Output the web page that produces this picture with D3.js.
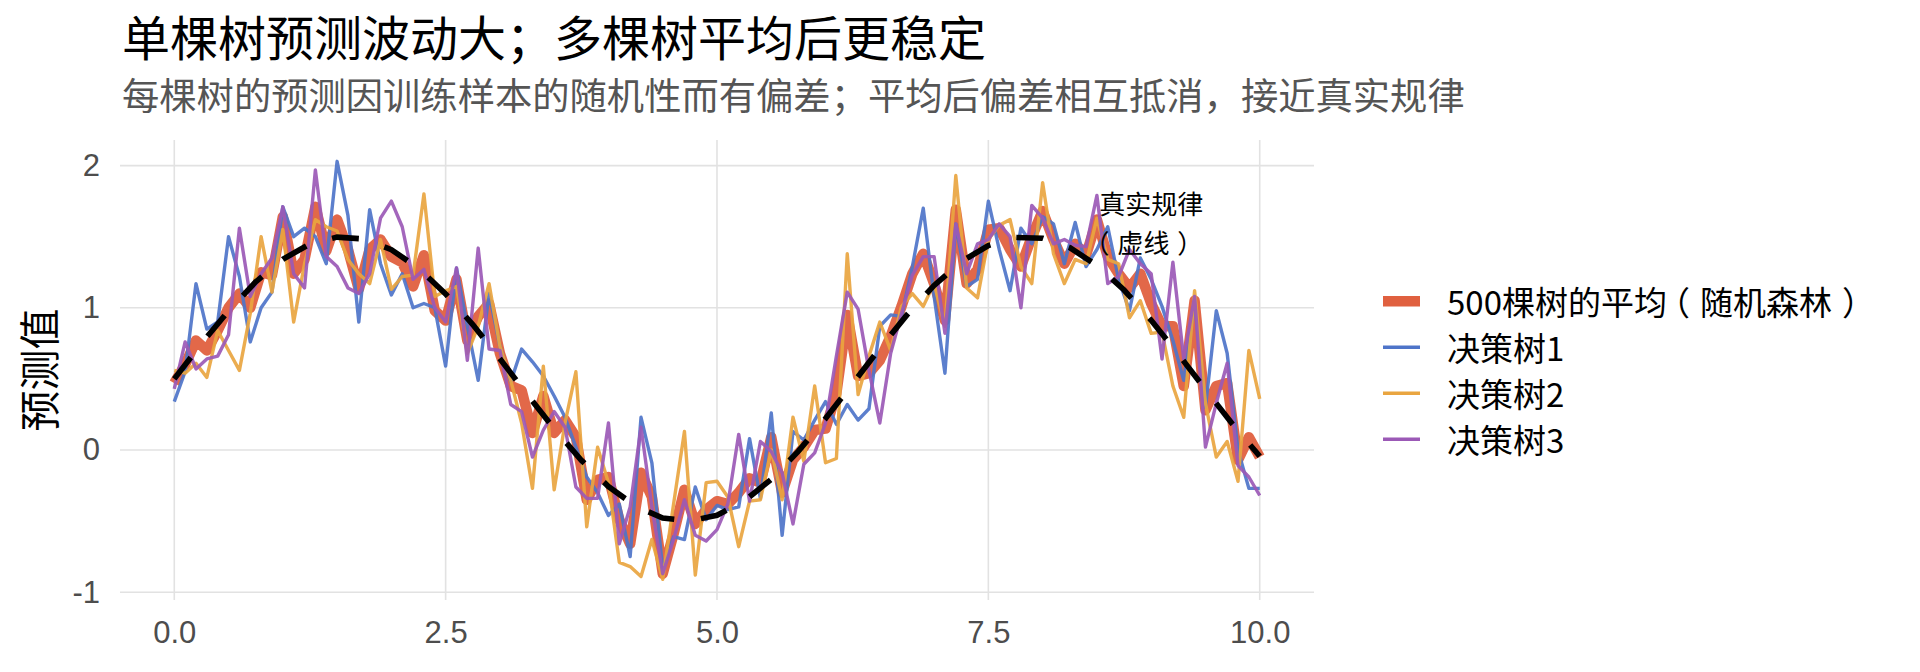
<!DOCTYPE html>
<html>
<head>
<meta charset="utf-8">
<script src="https://cdn.jsdelivr.net/npm/d3@7/dist/d3.min.js"></script>
<style>
  html, body { margin: 0; padding: 0; background: #fff; }
  svg { display: block; }
</style>
</head>
<body>
<svg id="chart" width="1920" height="672"></svg>
<script>
// ---------------- DATA ----------------
const titleText = "单棵树预测波动大；多棵树平均后更稳定";
const subtitleText = "每棵树的预测因训练样本的随机性而有偏差；平均后偏差相互抵消，接近真实规律";
const yAxisTitle = "预测值";
const xTickValues = [0, 2.5, 5, 7.5, 10];
const xTickLabels = ["0.0", "2.5", "5.0", "7.5", "10.0"];
const yTickValues = [-1, 0, 1, 2];
const yTickLabels = ["-1", "0", "1", "2"];
const seriesNames = ["500棵树的平均（随机森林）", "决策树1", "决策树2", "决策树3"];
const annotationLines = ["真实规律", "（虚线）"];

const xValues = [0,0.1,0.2,0.3,0.4,0.5,0.6,0.7,0.8,0.9,1,1.1,1.2,1.3,1.4,1.5,1.6,1.7,1.8,1.9,2,2.1,2.2,2.3,2.4,2.5,2.6,2.7,2.8,2.9,3,3.1,3.2,3.3,3.4,3.5,3.6,3.7,3.8,3.9,4,4.1,4.2,4.3,4.4,4.5,4.6,4.7,4.8,4.9,5,5.1,5.2,5.3,5.4,5.5,5.6,5.7,5.8,5.9,6,6.1,6.2,6.3,6.4,6.5,6.6,6.7,6.8,6.9,7,7.1,7.2,7.3,7.4,7.5,7.6,7.7,7.8,7.9,8,8.1,8.2,8.3,8.4,8.5,8.6,8.7,8.8,8.9,9,9.1,9.2,9.3,9.4,9.5,9.6,9.7,9.8,9.9,10];

const forestAvg = [0.47,0.60,0.77,0.70,0.84,1.00,1.10,1.00,1.25,1.23,1.64,1.24,1.34,1.71,1.40,1.62,1.41,1.13,1.41,1.48,1.36,1.32,1.15,1.37,0.98,0.91,1.20,0.77,0.94,1.03,0.68,0.45,0.42,0.12,0.38,0.12,0.21,0.09,-0.35,-0.21,-0.19,-0.49,-0.66,-0.16,-0.33,-0.87,-0.59,-0.28,-0.52,-0.42,-0.36,-0.38,-0.30,-0.20,-0.23,0.09,-0.30,-0.07,0.02,0.14,0.15,0.40,0.95,0.52,0.54,0.63,0.80,1.01,1.24,1.38,1.17,0.91,1.69,1.17,1.27,1.55,1.56,1.41,1.29,1.50,1.68,1.48,1.31,1.45,1.37,1.62,1.36,1.24,1.14,1.24,1.03,0.87,0.87,0.45,1.05,0.28,0.45,0.47,-0.07,0.09,-0.05];

const tree1 = [0.34,0.55,1.17,0.85,0.90,1.50,1.22,0.76,1.00,1.11,1.71,1.50,1.56,1.50,1.31,2.03,1.65,0.90,1.69,1.31,1.09,1.24,1.00,1.03,1.00,0.59,1.28,0.87,0.49,1.10,0.73,0.48,0.71,0.62,0.52,0.38,0.23,0.02,-0.19,-0.30,-0.46,-0.38,-0.75,0.23,-0.09,-0.84,-0.61,-0.63,-0.26,-0.49,-0.39,-0.42,-0.40,0.08,-0.34,0.26,-0.60,0.13,0.07,0.21,0.34,0.18,0.32,0.21,0.29,0.87,0.95,0.94,1.29,1.70,1.08,0.54,1.59,1.15,1.20,1.75,1.41,1.12,1.56,1.45,1.64,1.59,1.31,1.60,1.29,1.41,1.57,1.20,0.98,1.35,1.20,1.01,0.77,0.49,1.05,0.30,0.98,0.68,0.00,-0.27,-0.27];

const tree2 = [0.56,0.54,0.61,0.51,0.84,0.70,0.56,0.96,1.50,1.11,1.55,0.90,1.31,1.62,1.57,1.54,1.34,1.24,1.17,1.48,1.13,1.22,1.23,1.80,1.08,1.12,1.15,0.68,0.87,1.17,0.73,0.49,0.19,-0.27,0.59,-0.28,0.19,0.55,-0.54,0.02,-0.23,-0.79,-0.82,-0.89,-0.63,-0.91,-0.38,0.13,-0.88,-0.23,-0.22,-0.33,-0.68,-0.36,-0.35,0.00,-0.35,0.23,-0.08,0.45,-0.09,-0.06,1.38,0.39,0.66,0.90,0.70,1.01,1.10,1.01,1.17,0.87,1.93,1.14,1.07,1.48,1.58,1.62,1.29,1.17,1.88,1.38,1.17,1.34,1.31,1.63,1.34,1.31,0.93,1.05,0.82,0.83,0.45,0.23,1.12,0.33,-0.05,0.06,-0.22,0.70,0.36];

const tree3 = [0.43,0.76,0.57,0.64,0.66,0.81,1.56,1.08,1.24,1.35,1.71,1.24,1.14,1.97,1.36,1.29,1.14,1.10,1.24,1.63,1.75,1.57,1.20,1.27,1.00,0.90,1.28,0.63,1.42,0.71,0.70,0.32,0.27,-0.05,0.14,0.27,0.16,-0.26,-0.34,-0.34,0.19,-0.66,-0.40,0.16,-0.40,-0.87,-0.63,-0.35,-0.60,-0.64,-0.56,-0.38,0.11,-0.36,0.06,-0.01,-0.16,-0.52,-0.10,-0.02,0.19,0.66,1.11,0.99,0.56,0.19,0.68,0.96,1.23,1.36,1.36,0.82,1.59,1.24,1.45,1.48,1.59,1.50,1.00,1.72,1.63,1.45,1.48,1.44,1.43,1.79,1.17,1.22,1.41,1.31,1.24,0.64,1.32,0.64,1.08,0.02,0.33,0.61,-0.11,-0.19,-0.32];

const trueX = [0,0.25,0.5,0.75,1,1.25,1.5,1.75,2,2.25,2.5,2.75,3,3.25,3.5,3.75,4,4.25,4.5,4.75,5,5.25,5.5,5.75,6,6.25,6.5,6.75,7,7.25,7.5,7.75,8,8.25,8.5,8.75,9,9.25,9.5,9.75,10];
const trueY = [0.5,0.747,0.979,1.182,1.341,1.449,1.497,1.484,1.409,1.278,1.098,0.882,0.641,0.392,0.149,-0.072,-0.257,-0.395,-0.478,-0.499,-0.459,-0.359,-0.206,-0.008,0.221,0.467,0.715,0.950,1.157,1.324,1.438,1.495,1.489,1.423,1.298,1.125,0.912,0.674,0.425,0.181,-0.044];

const annotationAt = [9.0, 1.6];

// ---------------- STYLE ----------------
const colors = ["#E0603F", "#4E74C9", "#E9A540", "#9B59B6"];
const widths = [10.5, 3.4, 3.4, 3.4];
const cjk = "'Noto Sans CJK SC', 'Noto Sans', sans-serif";
const latin = "'Liberation Sans', Arial, sans-serif";

const svg = d3.select("#chart");
const panel = { left: 120, right: 1314, top: 140, bottom: 600 };

const x = d3.scaleLinear().domain([-0.5, 10.5]).range([panel.left, panel.right]);
const y = d3.scaleLinear().domain([-1.055, 2.18]).range([panel.bottom, panel.top]);

// per-glyph dx list that centres full-width parentheses inside their em box
function parenDx(str, fs) {
  const chars = Array.from(str);
  const dx = chars.map(() => 0);
  chars.forEach((c, i) => {
    if (c === "（") {
      dx[i] -= 0.3 * fs;
      if (i + 1 < chars.length) dx[i + 1] += 0.3 * fs;
    } else if (c === "）") {
      dx[i] += 0.3 * fs;
      if (i + 1 < chars.length) dx[i + 1] -= 0.3 * fs;
    }
  });
  return dx.join(" ");
}

// gridlines
const grid = svg.append("g");
grid.selectAll("line.h").data(yTickValues).join("line")
  .attr("x1", panel.left).attr("x2", panel.right)
  .attr("y1", d => y(d)).attr("y2", d => y(d))
  .attr("stroke", "#e2e2e2").attr("stroke-width", 1.6);
grid.selectAll("line.v").data(xTickValues).join("line")
  .attr("y1", panel.top).attr("y2", panel.bottom)
  .attr("x1", d => x(d)).attr("x2", d => x(d))
  .attr("stroke", "#e2e2e2").attr("stroke-width", 1.6);

// axes
const xAxis = svg.append("g").attr("transform", `translate(0,${panel.bottom})`)
  .call(d3.axisBottom(x).tickValues(xTickValues)
    .tickFormat((d, i) => xTickLabels[i]).tickSize(0).tickPadding(21));
const yAxis = svg.append("g").attr("transform", `translate(${panel.left},0)`)
  .call(d3.axisLeft(y).tickValues(yTickValues)
    .tickFormat((d, i) => yTickLabels[i]).tickSize(0).tickPadding(20));
[xAxis, yAxis].forEach(a => {
  a.select(".domain").remove();
  a.selectAll("text").attr("font-family", latin).attr("font-size", 31).attr("fill", "#4d4d4d");
});

// lines
const seriesData = [forestAvg, tree1, tree2, tree3];
const line = d3.line().x((d, i) => x(xValues[i])).y(d => y(d));
const lines = svg.append("g");
seriesData.forEach((s, i) => {
  lines.append("path").datum(s)
    .attr("d", line)
    .attr("fill", "none")
    .attr("stroke", colors[i])
    .attr("stroke-width", widths[i])
    .attr("stroke-linejoin", "round")
    .attr("stroke-opacity", i === 0 ? 0.95 : 0.92);
});

// true curve dashed
const trueLine = d3.line().x((d, i) => x(trueX[i])).y(d => y(d));
svg.append("path").datum(trueY)
  .attr("d", trueLine)
  .attr("fill", "none")
  .attr("stroke", "#000")
  .attr("stroke-width", 5.6)
  .attr("stroke-dasharray", "27 27");

// annotation
annotationLines.forEach((t, i) => {
  svg.append("text")
    .attr("x", x(annotationAt[0]))
    .attr("y", y(annotationAt[1]) + (i === 0 ? -19.5 : 19.5))
    .attr("dx", parenDx(t, 26))
    .attr("dominant-baseline", "central")
    .attr("text-anchor", "middle")
    .attr("font-family", cjk).attr("font-size", 26).attr("fill", "#000")
    .text(t);
});

// titles
svg.append("text").attr("x", 122).attr("y", 55.5)
  .attr("font-family", cjk).attr("font-size", 48).attr("fill", "#000")
  .text(titleText);
svg.append("text").attr("x", 122).attr("y", 110)
  .attr("font-family", cjk).attr("font-size", 37.3).attr("fill", "#555555")
  .text(subtitleText);

// y axis title
svg.append("text")
  .attr("transform", `translate(37,${(panel.top + panel.bottom) / 2}) rotate(-90)`)
  .attr("text-anchor", "middle").attr("dominant-baseline", "central")
  .attr("font-family", cjk).attr("font-size", 41).attr("fill", "#000")
  .text(yAxisTitle);

// legend
const legend = svg.append("g");
const legendTop = 301.3, legendStep = 46;
seriesNames.forEach((name, i) => {
  const cy = legendTop + i * legendStep;
  legend.append("line")
    .attr("x1", 1383).attr("x2", 1420).attr("y1", cy).attr("y2", cy)
    .attr("stroke", colors[i]).attr("stroke-width", widths[i]);
  legend.append("text")
    .attr("x", 1447).attr("y", cy)
    .attr("dx", parenDx(name, 33))
    .attr("dominant-baseline", "central")
    .attr("font-family", cjk).attr("font-size", 33).attr("fill", "#000")
    .text(name);
});
</script>
</body>
</html>
